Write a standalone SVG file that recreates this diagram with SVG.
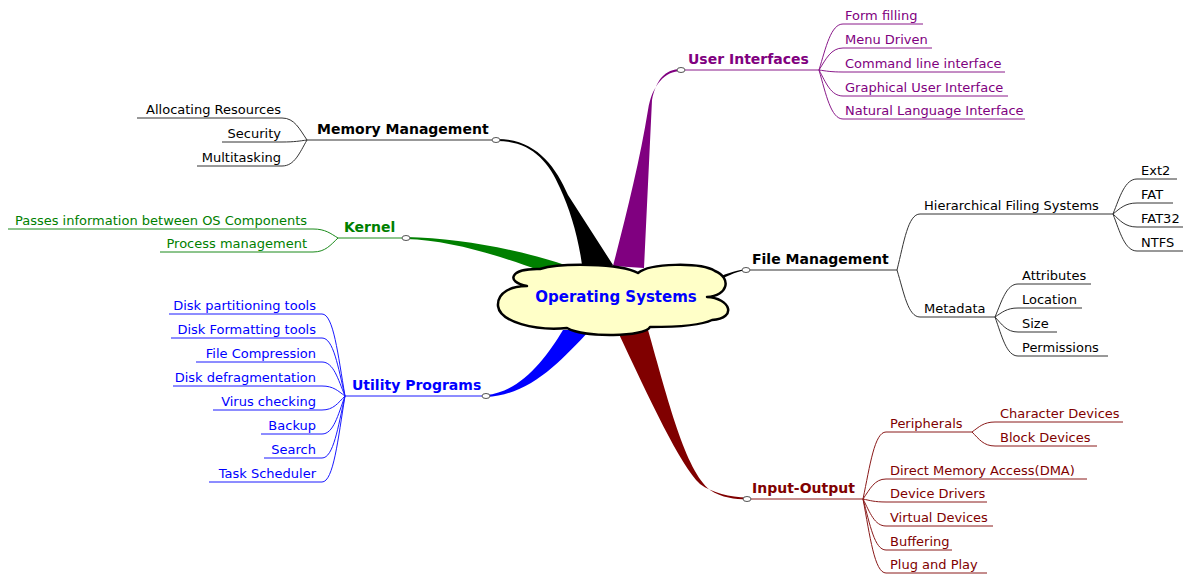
<svg xmlns="http://www.w3.org/2000/svg" width="1193" height="577" viewBox="0 0 1193 577">
  <style>
    .lbl { font-family: "DejaVu Sans", Verdana, sans-serif; font-size: 13px; }
    .ttl { font-family: "DejaVu Sans", Verdana, sans-serif; font-size: 14px; font-weight: bold; }
    .end { text-anchor: end; }
    .ln { fill: none; stroke-width: 1; }
    .dot { fill: #ffffff; stroke: #555555; stroke-width: 1; }
    .k { fill: #000000; } .kl { stroke: #333333; }
    .p { fill: #800080; } .pl { stroke: #8a1a8a; }
    .g { fill: #008000; } .gl { stroke: #1a8a1a; }
    .b { fill: #0000ff; } .bl { stroke: #1a1aff; }
    .r { fill: #800000; } .rl { stroke: #8a1a1a; }
  </style>
  <rect width="1193" height="577" fill="#ffffff"/>

  <!-- tapered trunks from the central topic -->
  <g id="connectors">
    <path class="k" d="M 497,139 C 535,139 555,165 568,195 L 613,265 L 582,265 C 578,235 570,210 560,188 C 548,160 530,141 497,141 Z"/>
    <path class="p" d="M 681,69 C 665,69 656,80 652,100 L 644,268 L 613,266 C 625,220 640,160 648,110 C 652,85 665,71 681,71 Z"/>
    <path class="g" d="M 406,237 C 460,238 520,250 565,265 L 538,270 C 500,256 450,240 406,239 Z"/>
    <path class="b" d="M 486,395 C 520,392 545,360 563,330 L 590,330 C 560,362 530,395 486,397 Z"/>
    <path class="r" d="M 648,330 C 668,400 685,470 710,490 C 722,498 735,499 747,499.5 L 747,497.5 C 730,497 712,493 700,484 C 680,465 650,400 617,330 Z"/>
    <path class="k" d="M 712,280 C 725,274 735,270.5 744,269.5 L 744,270.5 C 735,272 725,277 712,284 Z"/>
  </g>

  <!-- central topic -->
  <g id="center">
    <path d="M 527,286 C 505,282 510,268 540,269 C 560,263 620,263 638,273 C 650,263 700,262 715,271 C 732,278 728,296 707,297 C 730,298 738,318 712,320 C 700,326 670,327 650,327 C 645,337 585,338 567,328 C 535,331 500,322 498,306 C 497,292 512,286 527,286 Z" fill="#ffffc8" stroke="#000000" stroke-width="2.5" stroke-linejoin="round"/>
    <text x="616" y="302" text-anchor="middle" font-family="DejaVu Sans, Verdana, sans-serif" font-size="15" font-weight="bold" fill="#0000ff">Operating Systems</text>
  </g>

  <!-- Memory Management -->
  <g id="memory-management">
    <path class="ln kl" d="M 307,140 H 492"/>
    <ellipse class="dot" cx="496" cy="140" rx="4" ry="2.5"/>
    <text class="ttl k" x="317" y="134">Memory Management</text>
    <path class="ln kl" d="M 307,140 C 299.5,129 294.5,118 282,118 H 137"/>
    <path class="ln kl" d="M 307,140 C 299.5,141 294.5,142 282,142 H 222"/>
    <path class="ln kl" d="M 307,140 C 299.5,153 294.5,166 282,166 H 197"/>
    <text class="lbl k end" x="281" y="114">Allocating Resources</text>
    <text class="lbl k end" x="281" y="138">Security</text>
    <text class="lbl k end" x="281" y="162">Multitasking</text>
  </g>

  <!-- Kernel -->
  <g id="kernel">
    <path class="ln gl" d="M 338,238 H 402"/>
    <ellipse class="dot" cx="406" cy="238" rx="4" ry="2.5"/>
    <text class="ttl g" x="344" y="232">Kernel</text>
    <path class="ln gl" d="M 338,238 C 330.5,233.5 325.5,229 313,229 H 8"/>
    <path class="ln gl" d="M 338,238 C 330.5,245 325.5,252 313,252 H 160"/>
    <text class="lbl g end" x="307" y="225">Passes information between OS Components</text>
    <text class="lbl g end" x="307" y="248">Process management</text>
  </g>

  <!-- Utility Programs -->
  <g id="utility-programs">
    <path class="ln bl" d="M 345,396 H 482"/>
    <ellipse class="dot" cx="486" cy="396" rx="4" ry="2.5"/>
    <text class="ttl b" x="352" y="390">Utility Programs</text>
    <path class="ln bl" d="M 345,396 C 338,355 333.5,314 322,314 H 169"/>
    <path class="ln bl" d="M 345,396 C 338,367 333.5,338 322,338 H 171"/>
    <path class="ln bl" d="M 345,396 C 338,379 333.5,362 322,362 H 196"/>
    <path class="ln bl" d="M 345,396 C 338,391 333.5,386 322,386 H 173"/>
    <path class="ln bl" d="M 345,396 C 338,403 333.5,410 322,410 H 213"/>
    <path class="ln bl" d="M 345,396 C 338,415 333.5,434 322,434 H 261"/>
    <path class="ln bl" d="M 345,396 C 338,427 333.5,458 322,458 H 264"/>
    <path class="ln bl" d="M 345,396 C 338,439 333.5,482 322,482 H 209"/>
    <text class="lbl b end" x="316" y="310">Disk partitioning tools</text>
    <text class="lbl b end" x="316" y="334">Disk Formatting tools</text>
    <text class="lbl b end" x="316" y="358">File Compression</text>
    <text class="lbl b end" x="316" y="382">Disk defragmentation</text>
    <text class="lbl b end" x="316" y="406">Virus checking</text>
    <text class="lbl b end" x="316" y="430">Backup</text>
    <text class="lbl b end" x="316" y="454">Search</text>
    <text class="lbl b end" x="316" y="478">Task Scheduler</text>
  </g>

  <!-- User Interfaces -->
  <g id="user-interfaces">
    <path class="ln pl" d="M 685,70 H 819"/>
    <ellipse class="dot" cx="681" cy="70" rx="4" ry="2.5"/>
    <text class="ttl p" x="688" y="64">User Interfaces</text>
    <path class="ln pl" d="M 819,70 C 826,47 831,24 843,24 H 923"/>
    <path class="ln pl" d="M 819,70 C 826,59 831,48 843,48 H 932"/>
    <path class="ln pl" d="M 819,70 C 826,71 831,72 843,72 H 1005"/>
    <path class="ln pl" d="M 819,70 C 826,83 831,96 843,96 H 1008"/>
    <path class="ln pl" d="M 819,70 C 826,94.5 831,119 843,119 H 1025"/>
    <text class="lbl p" x="845" y="20">Form filling</text>
    <text class="lbl p" x="845" y="44">Menu Driven</text>
    <text class="lbl p" x="845" y="68">Command line interface</text>
    <text class="lbl p" x="845" y="92">Graphical User Interface</text>
    <text class="lbl p" x="845" y="115">Natural Language Interface</text>
  </g>

  <!-- File Management -->
  <g id="file-management">
    <path class="ln kl" d="M 750,270 H 897"/>
    <ellipse class="dot" cx="746" cy="270" rx="4" ry="2.5"/>
    <text class="ttl k" x="752" y="264">File Management</text>
    <path class="ln kl" d="M 897,270 C 904,242 908,214 920,214 H 1113"/>
    <path class="ln kl" d="M 897,270 C 904,293 908,317 920,317 H 995"/>
    <text class="lbl k" x="924" y="210">Hierarchical Filing Systems</text>
    <text class="lbl k" x="924" y="313">Metadata</text>
    <path class="ln kl" d="M 1113,214 C 1120,196.5 1125,179 1137,179 H 1177"/>
    <path class="ln kl" d="M 1113,214 C 1120,208.5 1125,203 1137,203 H 1173"/>
    <path class="ln kl" d="M 1113,214 C 1120,220.5 1125,227 1137,227 H 1183"/>
    <path class="ln kl" d="M 1113,214 C 1120,232.5 1125,251 1137,251 H 1183"/>
    <text class="lbl k" x="1141" y="175">Ext2</text>
    <text class="lbl k" x="1141" y="199">FAT</text>
    <text class="lbl k" x="1141" y="223">FAT32</text>
    <text class="lbl k" x="1141" y="247">NTFS</text>
    <path class="ln kl" d="M 995,317 C 1002,300.5 1006.5,284 1018,284 H 1091"/>
    <path class="ln kl" d="M 995,317 C 1002,312.5 1006.5,308 1018,308 H 1082"/>
    <path class="ln kl" d="M 995,317 C 1002,324.5 1006.5,332 1018,332 H 1057"/>
    <path class="ln kl" d="M 995,317 C 1002,336.5 1006.5,356 1018,356 H 1108"/>
    <text class="lbl k" x="1022" y="280">Attributes</text>
    <text class="lbl k" x="1022" y="304">Location</text>
    <text class="lbl k" x="1022" y="328">Size</text>
    <text class="lbl k" x="1022" y="352">Permissions</text>
  </g>

  <!-- Input-Output -->
  <g id="input-output">
    <path class="ln rl" d="M 751,499 H 863"/>
    <ellipse class="dot" cx="747" cy="499" rx="4" ry="2.5"/>
    <text class="ttl r" x="752" y="493">Input-Output</text>
    <path class="ln rl" d="M 863,499 C 870,465.5 874.5,432 886,432 H 972"/>
    <path class="ln rl" d="M 863,499 C 870,489 874.5,479 886,479 H 1087"/>
    <path class="ln rl" d="M 863,499 C 870,500.5 874.5,502 886,502 H 987"/>
    <path class="ln rl" d="M 863,499 C 870,512.5 874.5,526 886,526 H 993"/>
    <path class="ln rl" d="M 863,499 C 870,524.5 874.5,550 886,550 H 952"/>
    <path class="ln rl" d="M 863,499 C 870,536 874.5,573 886,573 H 987"/>
    <text class="lbl r" x="890" y="428">Peripherals</text>
    <text class="lbl r" x="890" y="475">Direct Memory Access(DMA)</text>
    <text class="lbl r" x="890" y="498">Device Drivers</text>
    <text class="lbl r" x="890" y="522">Virtual Devices</text>
    <text class="lbl r" x="890" y="546">Buffering</text>
    <text class="lbl r" x="890" y="569">Plug and Play</text>
    <path class="ln rl" d="M 972,432 C 979,427 983.5,422 995,422 H 1123"/>
    <path class="ln rl" d="M 972,432 C 979,439 983.5,446 995,446 H 1097"/>
    <text class="lbl r" x="1000" y="418">Character Devices</text>
    <text class="lbl r" x="1000" y="442">Block Devices</text>
  </g>
</svg>
